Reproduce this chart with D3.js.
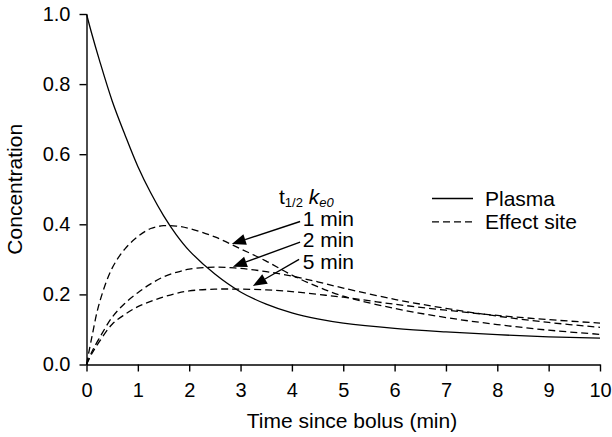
<!DOCTYPE html>
<html>
<head>
<meta charset="UTF-8">
<script src="https://cdn.jsdelivr.net/npm/d3@7"></script>
<style>
  body { margin: 0; background: #fff; }
  text { font-family: "Liberation Sans", Arial, sans-serif; fill: #000; }
</style>
</head>
<body>
<svg id="chart" width="612" height="437"></svg>
<script>
// ---- data ----
const time_pts   = [0, 0.1, 0.25, 0.5, 0.75, 1, 1.25, 1.5, 1.75, 2, 2.5, 3, 3.5, 4, 4.5, 5, 6, 7, 8, 9, 10];
const plasma     = [1.0, 0.945, 0.869, 0.752, 0.655, 0.565, 0.49, 0.425, 0.37, 0.325, 0.258, 0.207, 0.172, 0.147, 0.13, 0.118, 0.103, 0.093, 0.085, 0.079, 0.075];
const effect_1   = [0, 0.075, 0.175, 0.275, 0.33, 0.365, 0.388, 0.396, 0.395, 0.388, 0.364, 0.33, 0.295, 0.255, 0.222, 0.195, 0.160, 0.134, 0.114, 0.098, 0.086];
const effect_2   = [0, 0.035, 0.075, 0.135, 0.175, 0.205, 0.23, 0.25, 0.263, 0.272, 0.278, 0.274, 0.265, 0.252, 0.236, 0.218, 0.186, 0.160, 0.138, 0.120, 0.106];
const effect_5   = [0, 0.03, 0.065, 0.115, 0.143, 0.165, 0.18, 0.193, 0.203, 0.21, 0.215, 0.215, 0.213, 0.208, 0.200, 0.192, 0.172, 0.155, 0.140, 0.128, 0.118];

const x_ticks = [0, 1, 2, 3, 4, 5, 6, 7, 8, 9, 10];
const y_ticks = [0, 0.2, 0.4, 0.6, 0.8, 1.0];

const legend_labels = ["Plasma", "Effect site"];
const arrow_labels  = ["1 min", "2 min", "5 min"];
// arrows: tail (near label) -> tip (on curve), in data units
const arrow_tail = [[4.16, 0.408], [4.16, 0.349], [4.14, 0.300]];
const arrow_tip  = [[2.83, 0.344], [2.85, 0.279], [3.24, 0.224]];

// ---- layout ----
const svg = d3.select("#chart");
const x = d3.scaleLinear([0, 10], [86.5, 600]);
const y = d3.scaleLinear([0, 1], [364.5, 14]);
const tick_px = 20;
const label_px = 21;

// axes
const gx = svg.append("g").attr("transform", `translate(0,${y(0)})`)
    .call(d3.axisBottom(x).tickValues(x_ticks).tickFormat(d3.format("d"))
        .tickSize(7).tickSizeOuter(0).tickPadding(11));
const gy = svg.append("g").attr("transform", `translate(${x(0)},0)`)
    .call(d3.axisLeft(y).tickValues(y_ticks).tickFormat(d3.format(".1f"))
        .tickSize(7).tickSizeOuter(0).tickPadding(9));
[gx, gy].forEach(g => {
    g.selectAll("path, line").attr("stroke", "#000").attr("stroke-width", 1.4);
    g.selectAll("text").style("font-size", tick_px + "px")
        .style("font-family", "'Liberation Sans', Arial, sans-serif");
});

// axis titles
svg.append("text").attr("x", 352).attr("y", 428)
    .attr("text-anchor", "middle").style("font-size", label_px + "px")
    .text("Time since bolus (min)");
svg.append("text").attr("transform", `translate(22,${(y(0) + y(1)) / 2}) rotate(-90)`)
    .attr("text-anchor", "middle").style("font-size", label_px + "px")
    .text("Concentration");

// curves
const line = d3.line().x((d, i) => x(time_pts[i])).y(d => y(d)).curve(d3.curveCatmullRom.alpha(0.5));
svg.append("path").attr("d", line(plasma))
    .attr("fill", "none").attr("stroke", "#000").attr("stroke-width", 1.3);
[effect_1, effect_2, effect_5].forEach(s => {
    svg.append("path").attr("d", line(s))
        .attr("fill", "none").attr("stroke", "#000").attr("stroke-width", 1.3)
        .attr("stroke-dasharray", "7,4");
});

// legend
const leg = svg.append("g");
legend_labels.forEach((lab, i) => {
    const ly = 198.5 + i * 23.3;
    leg.append("line").attr("x1", 432).attr("x2", 473).attr("y1", ly).attr("y2", ly)
        .attr("stroke", "#000").attr("stroke-width", 1.3)
        .attr("stroke-dasharray", i === 0 ? null : "7,4");
    leg.append("text").attr("x", 485).attr("y", ly + 7.5)
        .style("font-size", label_px + "px").text(lab);
});

// annotation: t1/2 ke0
const ann = svg.append("text").attr("x", 279).attr("y", 203.5).style("font-size", label_px + "px");
ann.append("tspan").text("t");
ann.append("tspan").attr("dy", 3).style("font-size", "13px").text("1/2");
ann.append("tspan").attr("dy", -3).text(" ");
ann.append("tspan").style("font-style", "italic").text("k");
ann.append("tspan").attr("dy", 3).style("font-size", "13px").style("font-style", "italic").text("e0");

const label_base = [225.5, 247, 268.5];
arrow_labels.forEach((lab, i) => {
    svg.append("text").attr("x", 354).attr("y", label_base[i])
        .attr("text-anchor", "end").style("font-size", label_px + "px").text(lab);
});

// arrows
arrow_tail.forEach((t, i) => {
    const x0 = x(t[0]), y0 = y(t[1]);
    const x1 = x(arrow_tip[i][0]), y1 = y(arrow_tip[i][1]);
    const ang = Math.atan2(y1 - y0, x1 - x0);
    const len = 14, half = 5.5;
    const bx = x1 - len * Math.cos(ang), by = y1 - len * Math.sin(ang);
    svg.append("line").attr("x1", x0).attr("y1", y0).attr("x2", bx).attr("y2", by)
        .attr("stroke", "#000").attr("stroke-width", 1.4);
    const pts = [
        [x1, y1],
        [bx + half * Math.sin(ang), by - half * Math.cos(ang)],
        [bx - half * Math.sin(ang), by + half * Math.cos(ang)]
    ];
    svg.append("polygon").attr("points", pts.map(p => p.join(",")).join(" ")).attr("fill", "#000");
});
</script>
</body>
</html>
